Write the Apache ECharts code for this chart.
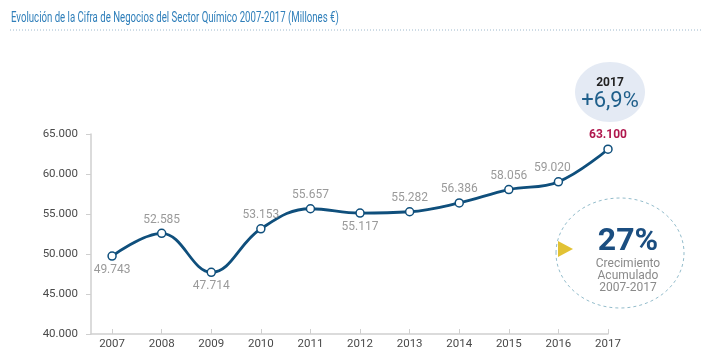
<!DOCTYPE html>
<html>
<head>
<meta charset="utf-8">
<script src="https://cdn.jsdelivr.net/npm/echarts@6/dist/echarts.min.js"></script>
<style>
html,body{margin:0;padding:0;background:#fff;}
#chart{width:702px;height:360px;}
</style>
</head>
<body>
<div id="chart"></div>
<script>
const years = [2007, 2008, 2009, 2010, 2011, 2012, 2013, 2014, 2015, 2016, 2017];
const values = [49743, 52585, 47714, 53153, 55657, 55117, 55282, 56386, 58056, 59020, 63100];
const labelPositions = ['bottom', 'top', 'bottom', 'top', 'top', 'bottom', 'top', 'top', 'top', 'top', 'top'];
const yTicks = [40000, 45000, 50000, 55000, 60000, 65000];
const titleText = 'Evolución de la Cifra de Negocios del Sector Químico 2007-2017 (Millones €)';

function fmt(v) {
  return String(v).replace(/\B(?=(\d{3})+(?!\d))/g, '.');
}

const chart = echarts.init(document.getElementById('chart'), null, {renderer: 'canvas'});
const lastIdx = years.length - 1;
const seriesData = years.map((y, i) => ({
  value: [y, values[i]],
  label: {
    position: labelPositions[i],
    color: i === lastIdx ? '#b0174d' : '#9a9a9a',
    fontWeight: i === lastIdx ? 'bold' : 'normal',
    offset: i === 9 ? [-6, 0] : [0, 0]
  }
}));

chart.setOption({
  animation: false,
  grid: {left: 91, right: 94, top: 134, bottom: 26, containLabel: false},
  xAxis: {
    type: 'value',
    min: 2006.575,
    max: 2017,
    splitLine: {show: false},
    axisLine: {show: true, lineStyle: {color: '#cfcfcf', width: 1.5}},
    axisTick: {show: true, inside: true, length: 5, lineStyle: {color: '#cfcfcf'}, customValues: years},
    axisLabel: {customValues: years, color: '#4a4a4a', fontSize: 11.5, fontFamily: 'Roboto, sans-serif', margin: 4, formatter: v => String(v)}
  },
  yAxis: {
    type: 'value',
    min: 40000,
    max: 65000,
    interval: 5000,
    splitLine: {show: false},
    axisLine: {show: true, lineStyle: {color: '#cfcfcf', width: 1.5}},
    axisTick: {show: true, inside: false, length: 5, lineStyle: {color: '#cfcfcf'}},
    axisLabel: {color: '#4a4a4a', fontSize: 11.5, fontFamily: 'Roboto, sans-serif', margin: 13, formatter: v => fmt(v)}
  },
  series: [{
    type: 'line',
    data: seriesData,
    smooth: 0.4,
    symbol: 'circle',
    symbolSize: 8,
    lineStyle: {color: '#0f4f7c', width: 2.8},
    itemStyle: {color: '#ffffff', borderColor: '#0f4f7c', borderWidth: 1.5},
    label: {
      show: true,
      fontSize: 12,
      fontFamily: 'Roboto, sans-serif',
      distance: 3,
      formatter: p => fmt(p.value[1])
    },
    z: 5
  }],
  graphic: [
    {type: 'text', x: 11, y: 18, scaleX: 0.688, style: {text: titleText, fill: '#2f7fba', font: '14px Roboto, sans-serif', align: 'left', verticalAlign: 'middle'}},
    {type: 'line', shape: {x1: 10, y1: 30, x2: 702, y2: 30}, style: {stroke: '#9db8cc', lineWidth: 1, lineDash: [1, 2]}},
    {type: 'ellipse', shape: {cx: 610, cy: 92, rx: 35, ry: 30}, style: {fill: '#e4eaf4'}},
    {type: 'text', x: 610, y: 83, style: {text: '2017', fill: '#222', font: 'bold 12px Roboto, sans-serif', align: 'center', verticalAlign: 'middle'}},
    {type: 'text', x: 610, y: 101, style: {text: '+6,9%', fill: '#1f5f8b', font: '22px Roboto, sans-serif', align: 'center', verticalAlign: 'middle'}},
    {type: 'ellipse', shape: {cx: 620, cy: 253, rx: 64, ry: 55}, style: {fill: 'none', stroke: '#93bccb', lineWidth: 1, lineDash: [3, 3]}},
    {type: 'text', x: 628, y: 242, style: {text: '27%', fill: '#1b4e80', font: 'bold 32px Roboto, sans-serif', align: 'center', verticalAlign: 'middle'}},
    {type: 'text', x: 628, y: 264, style: {text: 'Crecimiento', fill: '#8a8a8a', font: '12px Roboto, sans-serif', align: 'center', verticalAlign: 'middle'}},
    {type: 'text', x: 628, y: 276, style: {text: 'Acumulado', fill: '#8a8a8a', font: '12px Roboto, sans-serif', align: 'center', verticalAlign: 'middle'}},
    {type: 'text', x: 628, y: 288, style: {text: '2007-2017', fill: '#8a8a8a', font: '12px Roboto, sans-serif', align: 'center', verticalAlign: 'middle'}},
    {type: 'polygon', shape: {points: [[558, 241], [573, 249], [558, 257]]}, style: {fill: '#e2c234'}}
  ]
});
</script>
</body>
</html>
